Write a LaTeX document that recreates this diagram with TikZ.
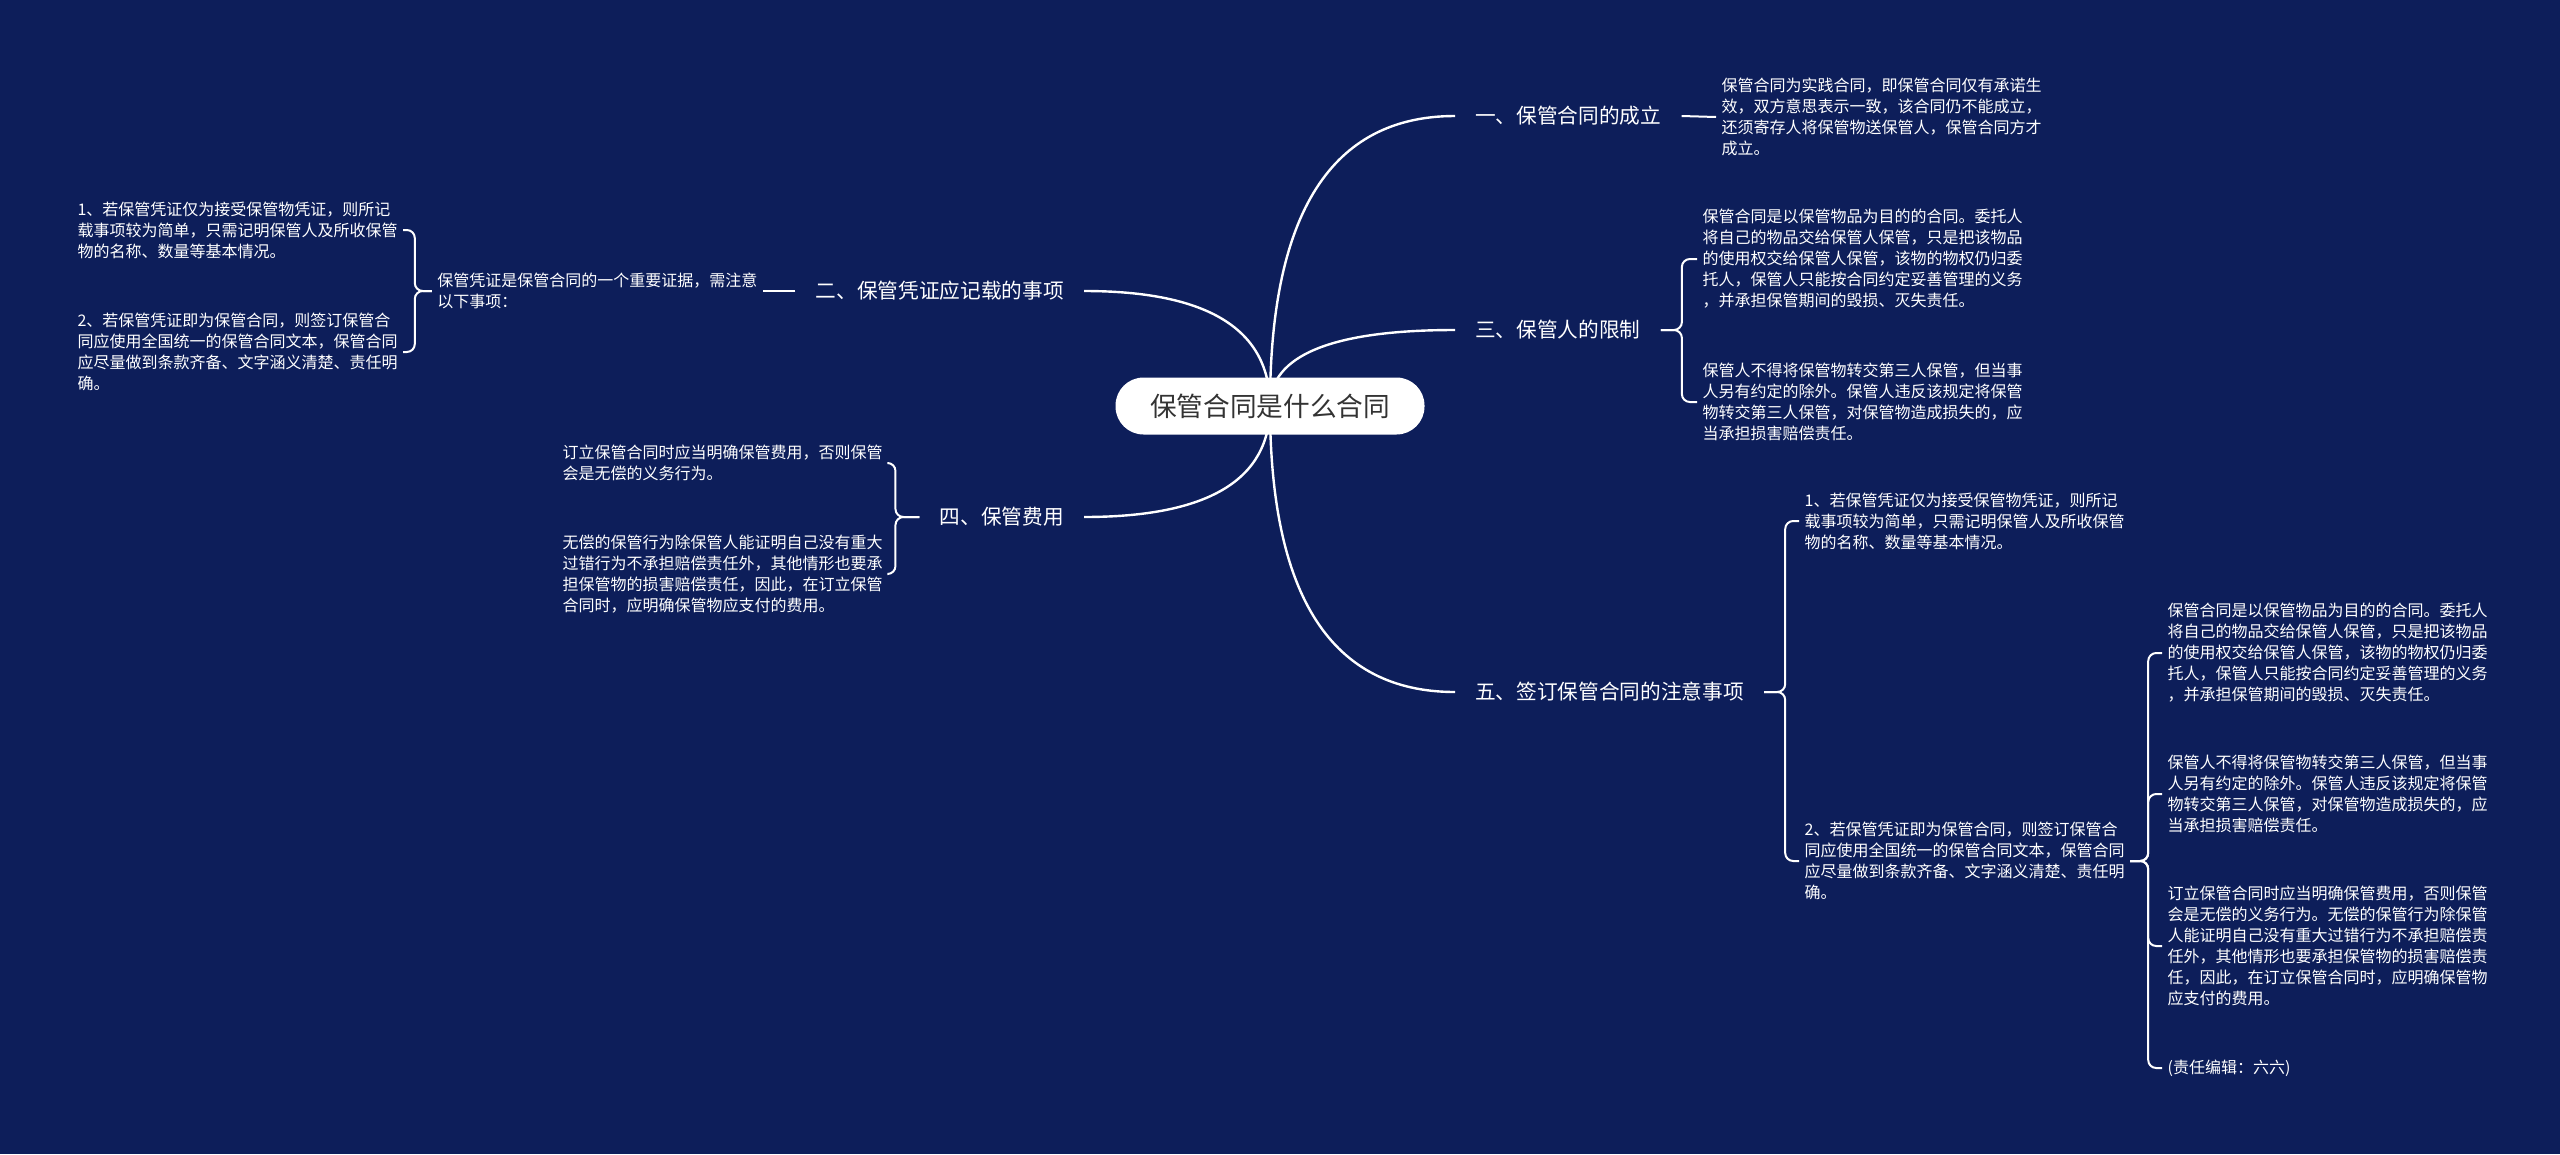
\documentclass[tikz,border=0pt]{standalone}
\usepackage{fontspec}
\setmainfont{Noto Sans CJK SC}
\usetikzlibrary{calc}
\definecolor{navy}{RGB}{13,30,90}
\definecolor{rootgray}{RGB}{51,51,51}
\pgfdeclarelayer{bg}
\pgfdeclarelayer{links}
\pgfsetlayers{bg,links,main}

% texts used twice
\newcommand{\voucherone}{1、若保管凭证仅为接受保管物凭证，则所记\\载事项较为简单，只需记明保管人及所收保管\\物的名称、数量等基本情况。}
\newcommand{\vouchertwo}{2、若保管凭证即为保管合同，则签订保管合\\同应使用全国统一的保管合同文本，保管合同\\应尽量做到条款齐备、文字涵义清楚、责任明\\确。}
\newcommand{\purposetext}{保管合同是以保管物品为目的的合同。委托人\\将自己的物品交给保管人保管，只是把该物品\\的使用权交给保管人保管，该物的物权仍归委\\托人，保管人只能按合同约定妥善管理的义务\\，并承担保管期间的毁损、灭失责任。}
\newcommand{\transfertext}{保管人不得将保管物转交第三人保管，但当事\\人另有约定的除外。保管人违反该规定将保管\\物转交第三人保管，对保管物造成损失的，应\\当承担损害赔偿责任。}

\begin{document}
\begin{tikzpicture}[x=0.75pt, y=-0.75pt,
  rootbox/.style={fill=white, text=rootgray, rounded corners=21pt,
    minimum width=231.75pt, minimum height=42.75pt, font=\fontsize{20}{24}\selectfont},
  topic/.style={text=white, inner xsep=15pt, inner ysep=2pt, font=\fontsize{15.5}{18}\selectfont},
  leaf/.style={text=white, align=left, inner xsep=4pt, inner ysep=0pt, font=\fontsize{12}{15.75}\selectfont},
  trunk/.style={white, line width=1.8pt},
  twig/.style={white, line width=1.5pt, rounded corners=6pt}]
  \useasboundingbox (0,0) rectangle (2560,1154);
  \begin{pgfonlayer}{bg}
    \fill[navy] (0,0) rectangle (2560,1154);
  \end{pgfonlayer}

  % root
  \node[rootbox] (root) at (1270,406) {保管合同是什么合同};

  % topics, right
  \node[topic, anchor=west] (one) at (1455,116) {一、保管合同的成立};
  \node[topic, anchor=west] (three) at (1455,330) {三、保管人的限制};
  \node[topic, anchor=west] (five) at (1455,692) {五、签订保管合同的注意事项};
  % topics, left
  \node[topic, anchor=east] (two) at (1084,291) {二、保管凭证应记载的事项};
  \node[topic, anchor=east] (four) at (1084,517) {四、保管费用};

  % root links
  \begin{pgfonlayer}{links}
    \foreach \br/\side in {one/west, three/west, five/west, two/east, four/east}
      \draw[trunk] (root.center)
        .. controls ($(root.center)!0.667!(root.center |- \br.\side)$)
        and ($(\br.\side)!0.667!(root.center |- \br.\side)$) .. (\br.\side);
  \end{pgfonlayer}

  % one
  \node[leaf, anchor=west] (l1) at (1716,117) {保管合同为实践合同，即保管合同仅有承诺生\\效，双方意思表示一致，该合同仍不能成立，\\还须寄存人将保管物送保管人，保管合同方才\\成立。};
  \draw[twig] (one.east) -- (l1.west);

  % two
  \node[leaf, anchor=east] (l2) at (763,291) {保管凭证是保管合同的一个重要证据，需注意\\以下事项：};
  \node[leaf, anchor=west] (c21) at (72,230) {\voucherone};
  \node[leaf, anchor=west] (c22) at (72,352) {\vouchertwo};
  \draw[twig] (two.west) -- (l2.east);
  \foreach \kid in {c21,c22}
    \draw[twig] (l2.west) -- ++(-17,0) |- (\kid.east);

  % three
  \node[leaf, anchor=west] (c31) at (1697,259) {\purposetext};
  \node[leaf, anchor=west] (c32) at (1697,402) {\transfertext};
  \foreach \kid in {c31,c32}
    \draw[twig] (three.east) -- ++(21,0) |- (\kid.west);

  % four
  \node[leaf, anchor=west] (c41) at (557,463) {订立保管合同时应当明确保管费用，否则保管\\会是无偿的义务行为。};
  \node[leaf, anchor=west] (c42) at (557,574) {无偿的保管行为除保管人能证明自己没有重大\\过错行为不承担赔偿责任外，其他情形也要承\\担保管物的损害赔偿责任，因此，在订立保管\\合同时，应明确保管物应支付的费用。};
  \foreach \kid in {c41,c42}
    \draw[twig] (four.west) -- ++(-24,0) |- (\kid.east);

  % five
  \node[leaf, anchor=west] (c51) at (1799,521) {\voucherone};
  \node[leaf, anchor=west] (c52) at (1799,861) {\vouchertwo};
  \foreach \kid in {c51,c52}
    \draw[twig] (five.east) -- ++(21,0) |- (\kid.west);

  \node[leaf, anchor=west] (s1) at (2162,653) {\purposetext};
  \node[leaf, anchor=west] (s2) at (2162,794) {\transfertext};
  \node[leaf, anchor=west] (s3) at (2162,946) {订立保管合同时应当明确保管费用，否则保管\\会是无偿的义务行为。无偿的保管行为除保管\\人能证明自己没有重大过错行为不承担赔偿责\\任外，其他情形也要承担保管物的损害赔偿责\\任，因此，在订立保管合同时，应明确保管物\\应支付的费用。};
  \node[leaf, anchor=west] (s4) at (2162,1068) {(责任编辑：六六)};
  \foreach \kid in {s1,s2,s3,s4}
    \draw[twig] (c52.east) -- ++(18,0) |- (\kid.west);
\end{tikzpicture}
\end{document}
